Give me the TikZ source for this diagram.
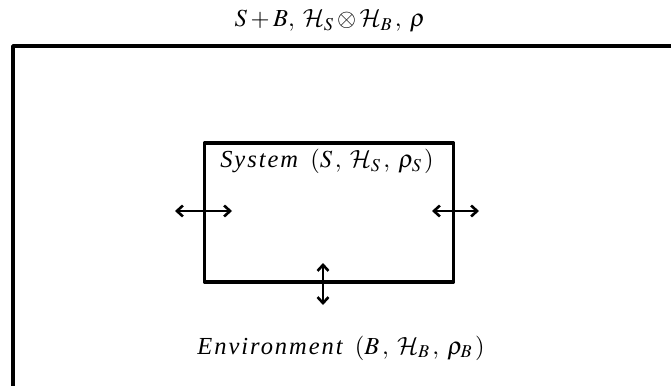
\documentclass[tikz,border=0pt]{standalone}
\usepackage{mathptmx}
\usepackage{fontspec}
\setmainfont{Liberation Serif}
\DeclareMathAlphabet{\mathcal}{OMS}{cmsy}{m}{n}
\usetikzlibrary{arrows.meta,positioning}

\begin{document}
\begin{tikzpicture}[x=1pt,y=-1pt,>={Straight Barb[length=6pt,width=11pt]},line cap=round,line join=round,
  box/.style={draw,line width=3.5pt},
  flow/.style={<->,line width=2.6pt},
  lbl/.style={font=\fontsize{24.5}{28}\selectfont\itshape,inner sep=0pt}]
  \clip (0,0) rectangle (671,385);

  % outer box (runs past the page)
  \draw[box] (13,430) -- (13,46) -- (720,46);
  \node[lbl] (whole) at (330,21) {$S+B,\;\mathcal{H}_S\otimes\mathcal{H}_B\,,\;\rho$};

  % system
  \node[box,minimum width=249pt,minimum height=139pt,inner sep=0pt] (sys) at (329,212.5) {};
  \node[lbl,below=8pt of sys.north,xshift=-2pt] (syslbl) {\addfontfeature{LetterSpace=8}System\, $(S\,,\;\mathcal{H}_S\,,\;\rho_S\,)$};

  % environment
  \node[lbl] (env) at (341,348) {\addfontfeature{LetterSpace=8}Environment\, $(B\,,\;\mathcal{H}_B\,,\;\rho_B\,)$};

  % exchange
  \coordinate (l1) at (175,211);
  \coordinate (l2) at (232,211);
  \coordinate (r1) at (432,211);
  \coordinate (r2) at (479,211);
  \coordinate (b1) at (323,263);
  \coordinate (b2) at (323,305);
  \draw[flow] (l1) -- (l2);
  \draw[flow] (r1) -- (r2);
  \draw[flow] (b1) -- (b2);
\end{tikzpicture}
\end{document}
